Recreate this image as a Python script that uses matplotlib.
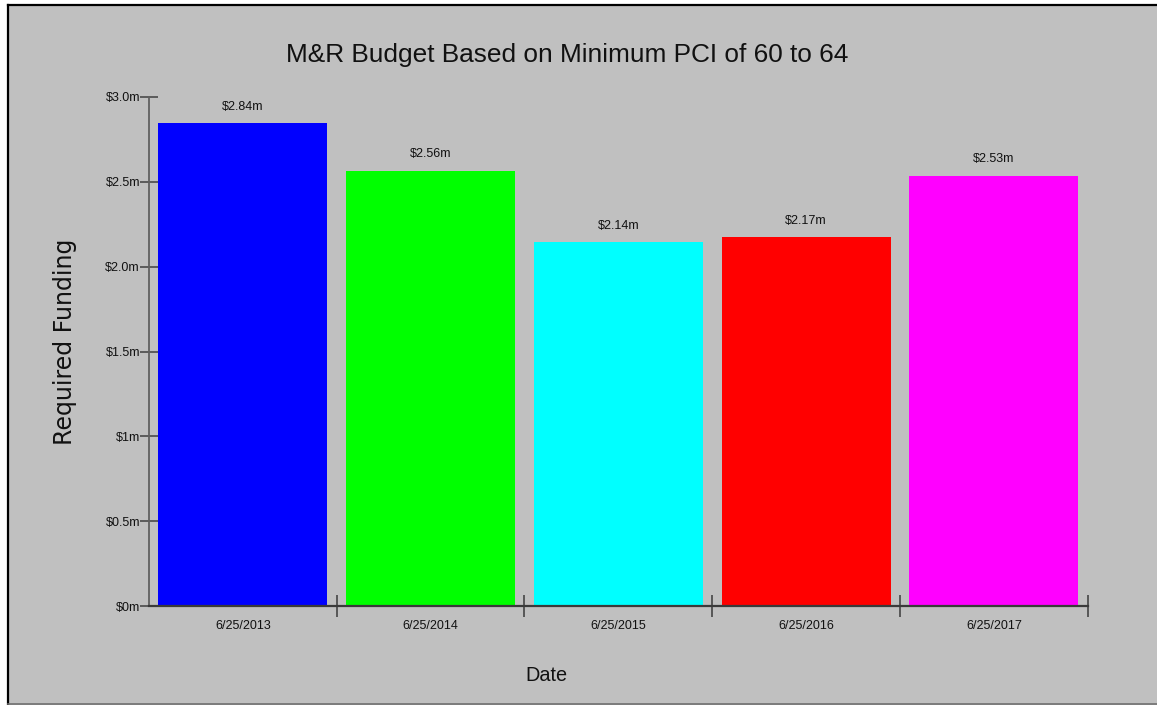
import matplotlib
matplotlib.use("Agg")
import matplotlib.pyplot as plt
from matplotlib import font_manager
from matplotlib.patches import Rectangle
from matplotlib.lines import Line2D

# ---- data ----
dates = ["6/25/2013", "6/25/2014", "6/25/2015", "6/25/2016", "6/25/2017"]
funding = [2.845, 2.565, 2.143, 2.173, 2.535]          # $ millions
value_labels = ["$2.84m", "$2.56m", "$2.14m", "$2.17m", "$2.53m"]
bar_colors = ["#0000FF", "#00FF00", "#00FFFF", "#FF0000", "#FF00FF"]
y_ticks = [0, 0.5, 1.0, 1.5, 2.0, 2.5, 3.0]
y_tick_labels = ["$0m", "$0.5m", "$1m", "$1.5m", "$2.0m", "$2.5m", "$3.0m"]
title = "M&R Budget Based on Minimum PCI of 60 to 64"
x_label = "Date"
y_label = "Required Funding"

names = {f.name for f in font_manager.fontManager.ttflist}
if "Liberation Sans Narrow" in names:
    narrow = ["Liberation Sans Narrow", "DejaVu Sans"]
    scale = 1.0
else:
    narrow = ["Liberation Sans", "DejaVu Sans"]
    scale = 0.82

W, H = 1157, 705
DPI = 100
fig = plt.figure(figsize=(W / DPI, H / DPI), dpi=DPI, facecolor="white")

def fx(px):
    return px / W

def fy(py):
    return 1 - py / H

BG = "#C0C0C0"
# gray panel with border
fig.patches.append(Rectangle((fx(8), 0), 1 - fx(8), fy(5), transform=fig.transFigure,
                             facecolor=BG, edgecolor="none", zorder=-10))
fig.lines.append(Line2D([fx(8), fx(8)], [0, fy(5)], transform=fig.transFigure,
                        color="black", lw=1.6, zorder=-5))
fig.lines.append(Line2D([fx(8), 1], [fy(5), fy(5)], transform=fig.transFigure,
                        color="black", lw=1.6, zorder=-5))
fig.lines.append(Line2D([fx(8), 1], [fy(704), fy(704)], transform=fig.transFigure,
                        color="#707070", lw=1.2, zorder=-5))

ax_left, ax_right, ax_top, ax_bottom = 149, 1087.7, 97, 606
ax = fig.add_axes([fx(ax_left), fy(ax_bottom), fx(ax_right - ax_left), (ax_bottom - ax_top) / H])
ax.set_facecolor("none")
ax.set_zorder(1)

x = list(range(len(dates)))
ax.bar(x, funding, width=0.9, color=bar_colors, edgecolor="none", zorder=2)
for xi, v, lab in zip(x, funding, value_labels):
    ax.annotate(lab, (xi, v), xytext=(0, 12), textcoords="offset points",
                ha="center", va="center", fontsize=11 * scale, family=narrow, color="#111111")

ax.set_xlim(-0.5, len(dates) - 0.5)
ax.set_ylim(0, 3.0)

for s in ("top", "right"):
    ax.spines[s].set_visible(False)
ax.spines["left"].set_color("#606060")
ax.spines["left"].set_linewidth(1.3)
ax.spines["bottom"].set_color("#3a3a3a")
ax.spines["bottom"].set_linewidth(1.6)
ax.spines["left"].set_zorder(3)
ax.spines["bottom"].set_zorder(3)

ax.set_xticks(x)
ax.set_xticklabels(dates, family=narrow, fontsize=11 * scale, color="#111111")
ax.tick_params(axis="x", which="major", length=0, pad=10)
ax.set_xticks([i + 0.5 for i in x], minor=True)
ax.tick_params(axis="x", which="minor", direction="inout", length=16, width=1.1, color="#3a3a3a")

ax.set_yticks(y_ticks)
ax.set_yticklabels(y_tick_labels, family=narrow, fontsize=11 * scale, color="#111111")
ax.tick_params(axis="y", which="major", direction="inout", length=13, width=1.1,
               color="#404040", pad=0)

fig.text(fx(567), fy(62.3), title, ha="center", va="baseline",
         fontsize=23 * scale, family=narrow, color="#111111")
fig.text(fx(546.5), fy(680.7), x_label, ha="center", va="baseline",
         fontsize=17.5 * scale, family=narrow, color="#111111")
fig.text(fx(65), fy(341.5), y_label, ha="center", va="center", rotation=90,
         fontsize=17, family=["DejaVu Sans"], color="#111111")

fig.savefig("out.png", dpi=DPI, facecolor="white")
